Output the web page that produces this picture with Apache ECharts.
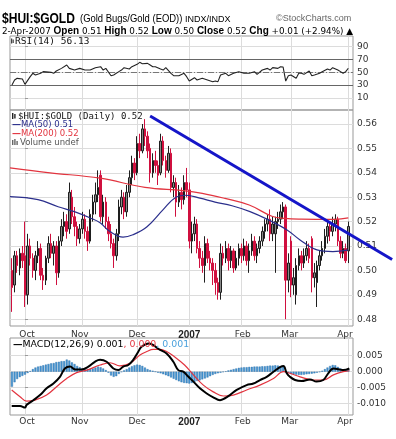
<!DOCTYPE html>
<html><head><meta charset="utf-8">
<script src="https://cdn.jsdelivr.net/npm/echarts@6/dist/echarts.min.js"></script>
<style>html,body{margin:0;padding:0;background:#fff}#c{width:396px;height:439px}</style>
</head><body><div id="c"></div><script>
// trading-day index of first candle (Oct 2 2006 = 0)
const firstDay = -5;
const opens = [.500,.494,.506,.501,.507,.506,.490,.510,.505,.500,
.506,.509,.498,.496,.505,.511,.507,.510,.499,.512,
.518,.520,.517,.530,.522,.518,.513,.517,.521,.516,
.512,.523,.528,.531,.539,.522,.528,.520,.515,.511,
.506,.515,.526,.530,.524,.532,.538,.544,.540,.552,
.549,.558,.555,.550,.540,.545,.543,.540,.553,.545,
.541,.548,.534,.536,.528,.532,.529,.536,.533,.512,
.515,.519,.509,.505,.502,.511,.505,.503,.500,.495,
.491,.507,.505,.509,.504,.508,.501,.505,.509,.506,
.510,.504,.508,.512,.506,.509,.512,.516,.519,.521,
.515,.515,.520,.521,.524,.526,.496,.512,.494,.490,
.502,.506,.503,.506,.509,.513,.497,.495,.502,.506,
.509,.514,.518,.516,.519,.521,.512,.507,.509,.508];
const highs = [.505,.508,.508,.509,.510,.520,.515,.513,.507,.508,
.512,.511,.501,.506,.514,.515,.512,.512,.514,.521,
.524,.523,.536,.533,.526,.520,.519,.524,.523,.518,
.525,.531,.536,.541,.541,.531,.530,.522,.519,.513,
.517,.529,.533,.532,.535,.541,.547,.546,.555,.556,
.560,.562,.557,.552,.548,.549,.545,.556,.555,.547,
.551,.550,.539,.538,.535,.534,.539,.542,.536,.520,
.522,.521,.512,.508,.514,.513,.508,.505,.503,.497,
.511,.510,.512,.511,.510,.509,.508,.511,.511,.513,
.512,.511,.515,.514,.511,.514,.518,.521,.523,.525,
.522,.522,.524,.527,.528,.527,.507,.514,.501,.505,
.509,.508,.509,.512,.511,.514,.503,.504,.508,.512,
.517,.520,.519,.522,.523,.522,.514,.512,.511,.520];
const lows = [.483,.491,.499,.498,.501,.485,.486,.502,.497,.496,
.503,.496,.492,.494,.503,.505,.502,.494,.497,.510,
.514,.513,.515,.519,.514,.510,.511,.515,.513,.508,
.511,.520,.523,.528,.520,.519,.517,.512,.509,.501,
.504,.512,.523,.521,.522,.530,.535,.537,.539,.546,
.548,.551,.546,.536,.538,.540,.535,.539,.543,.538,
.540,.532,.530,.522,.526,.525,.527,.530,.509,.507,
.512,.507,.501,.499,.495,.503,.500,.494,.490,.488,
.488,.502,.503,.500,.501,.499,.500,.502,.503,.504,
.502,.499,.506,.504,.503,.507,.510,.513,.516,.512,
.512,.499,.517,.519,.521,.480,.491,.489,.490,.486,
.500,.500,.501,.504,.503,.491,.493,.485,.500,.504,
.507,.511,.512,.514,.516,.510,.505,.505,.503,.503];
const closes = [.493,.506,.502,.507,.504,.490,.510,.505,.500,.506,
.509,.498,.496,.505,.511,.507,.510,.499,.512,.518,
.520,.516,.532,.522,.518,.513,.517,.521,.516,.512,
.523,.528,.531,.534,.522,.528,.520,.515,.511,.506,
.515,.526,.530,.524,.532,.538,.544,.540,.552,.549,
.558,.555,.549,.540,.545,.543,.539,.553,.545,.541,
.548,.534,.536,.528,.532,.529,.536,.533,.512,.515,
.519,.509,.505,.502,.511,.505,.503,.500,.495,.491,
.507,.505,.509,.504,.508,.501,.505,.509,.506,.510,
.504,.508,.512,.506,.509,.512,.516,.519,.521,.515,
.519,.520,.521,.524,.526,.496,.503,.494,.497,.502,
.506,.503,.506,.509,.505,.497,.499,.502,.506,.509,
.514,.518,.516,.519,.521,.512,.507,.509,.504,.518];

const ma50Days = [-5.75,5,12.7,19.2,25,28.8,32.6,37.6,41.4,46.8,52.9,57.9,61.8,67.1,72.9,79.4,86.3,92.8,100.5,105.5,112,118.1,124];
const ma50Vals = [.5302,.5290,.5261,.5240,.5215,.5195,.5159,.5136,.5146,.5179,.5248,.5300,.5308,.5296,.5280,.5265,.5241,.5210,.5166,.5125,.5084,.5077,.5084];
const ma200Days = [-5.75,9.6,28.8,46,60.6,68,76.7,86,94.7,99.7,105.9,119,124];
const ma200Vals = [.5420,.5400,.5378,.5340,.5327,.5316,.5295,.5268,.5222,.5213,.5210,.5209,.5215];
const trendDays = [48, 140.8];
const trendVals = [.5633, .5045];

const rsiDays = [-5,-4,-3,-1,0,2,3,4,6,7,10,11,12,14,16,17,19,21,23,25,27,29,30,31,33,34,36,37,38,40,41,43,44,45,47,48,49,50,52,53,54,56,57,59,61,62,63,65,66,68,70,72,73,74,75,77,78,80,82,84,86,88,89,91,93,94,95,97,98,99,100,101,102,104,105,106,107,109,110,111,113,114,116,117,118,120,121,122,123,124];
const rsiVals = [30,37.8,40.4,39.3,31,43,48.2,45.6,48.2,50.8,49.7,48.2,51.8,55.9,61.1,55.9,53.3,55.9,53.3,53.3,57,58.5,53.3,55.9,44.5,45.6,50.8,53.3,57,54.9,58.5,62.2,65.3,63.2,63.7,61.1,58.5,58.5,54.9,53.3,57,48.2,44.5,44.5,48.2,43,36.2,41.4,37.8,40.4,37.8,35.2,36.2,35.2,45.6,48.2,44.5,48.2,50.8,48.2,48.2,50.8,46.6,53.3,55.9,53.3,57,55.9,58.5,58,36.2,44.5,45.6,40.4,48.2,48.2,46.6,51.8,44.5,45.6,48.2,50.8,54.9,53.3,57,53.3,50.8,48.2,50.8,56.13];

const macdDays = [-5.1,-1.9,0,0.6,3.2,5.75,8.3,10.9,13.4,15.3,17.3,19.2,21.7,24.3,26.8,28.8,31.3,33.9,35.8,37.7,39.6,41.5,43.5,44.7,47.5,51.8,54.3,56.9,58.8,60.7,62.7,64.6,67.1,69.7,72.2,74.8,76.7,78.6,81.2,85,87.6,90.1,92.7,95.3,97.8,99.1,100.4,101.6,103.6,106.1,109.3,111.8,114.4,116.3,118.3,120.2,122.1,124.4];
const macdVals = [-.0107,-.0107,-.0112,-.0104,-.0089,-.0073,-.0052,-.0037,-.0016,.0010,.0016,.0007,.0007,.0016,.0031,.0037,.0031,.0010,.0005,.0016,.0021,.0037,.0063,.0078,.0088,.0068,.0057,.0031,.0005,0,-.0016,-.0031,-.0052,-.0068,-.0080,-.0089,-.0083,-.0073,-.0057,-.0042,-.0037,-.0026,-.0016,0,.0014,.0018,-.0005,-.0016,-.0026,-.0029,-.0024,-.0031,-.0026,-.0005,.0010,.0008,.0005,.0010];
const signalDays = [-5.1,-1.9,0.6,3.8,8.3,12.1,16,19.8,23.7,28.8,32.6,36.4,40.3,44.1,46.7,49.2,51.8,54.3,57.3,61.2,64.6,68.4,72.2,76.1,79.9,85,90.1,95.3,99.1,101.6,105.5,110.5,114.4,118.3,122.1,124.4];
const signalVals = [-.0057,-.0078,-.0092,-.0089,-.0073,-.0047,-.0021,-.0003,.0005,.0021,.0028,.0018,.0026,.0052,.0063,.0070,.0070,.0063,.0047,.0021,-.0010,-.0042,-.0063,-.0076,-.0073,-.0057,-.0042,-.0021,0,-.0005,-.0016,-.0026,-.0026,-.0010,0,.0003];
const histVals = [-.0047,-.0033,-.0023,-.0017,-.0013,-.0009,-.0004,.0002,.0008,.0013,
.0016,.0018,.0020,.0022,.0024,.0026,.0027,.0030,.0031,.0033,
.0033,.0038,.0035,.0029,.0024,.0018,.0014,.0010,.0008,.0007,
.0008,.0010,.0013,.0016,.0014,.0010,.0005,-.0003,-.0012,-.0016,
-.0014,-.0007,-.0001,.0004,.0008,.0013,.0017,.0020,.0022,.0021,
.0018,.0013,.0008,.0005,.0003,0,-.0003,-.0005,-.0008,-.0011,
-.0014,-.0018,-.0022,-.0026,-.0030,-.0033,-.0035,-.0036,-.0037,-.0035,
-.0032,-.0029,-.0027,-.0024,-.0021,-.0018,-.0014,-.0010,-.0007,-.0005,
-.0003,-.0001,.0001,.0004,.0006,.0008,.0010,.0012,.0013,.0014,
.0014,.0015,.0015,.0016,.0016,.0016,.0017,.0017,.0018,.0019,
.0019,.0020,.0019,.0017,.0016,0,-.0004,-.0007,-.0008,-.0009,
-.0010,-.0010,-.0009,-.0008,-.0007,-.0006,-.0005,-.0003,-.0001,.0003,
.0008,.0013,.0018,.0021,.0020,.0015,.0010,.0006,.0004,.0007];

const monthLines = [0, 22, 43, 63, 83, 102, 124];
const monthLabels = ['Oct', 'Nov', 'Dec', '2007', 'Feb', 'Mar', 'Apr'];
const monthLabelPos = [0.8, 21, 43, 63, 83.5, 101.5, 122.7];
const rsiTicks = [10, 30, 50, 70, 90];
const priceTicks = [0.48, 0.49, 0.50, 0.51, 0.52, 0.53, 0.54, 0.55, 0.56];
const macdTicks = [-0.010, -0.005, 0, 0.005];

const zip = (xs, ys) => xs.map((x, i) => [x, ys[i]]);
const candles = opens.map((o, k) => [firstDay + k, o, closes[k], lows[k], highs[k]]);
const hist = histVals.map((v, k) => [firstDay + k, v]);

const GRID_L = 10, GRID_R = 43;
const XMIN = -5.75, XMAX = 125.8;
const labelFont = {fontSize: 9, color: '#333', fontFamily: '"DejaVu Sans", sans-serif'};
function xAxis(idx, showLabels) {
  return {
    type: 'value', gridIndex: idx, min: XMIN, max: XMAX,
    axisLine: {show: false},
    axisTick: {show: false, customValues: monthLines},
    splitLine: {show: true, lineStyle: {color: '#dcdcdc', width: 1}},
    axisLabel: showLabels ? Object.assign({
      customValues: monthLabelPos, margin: idx === 1 ? 4 : 2, hideOverlap: false,
      formatter: v => { const j = monthLabelPos.indexOf(v); const t = monthLabels[j] || ''; return t === '2007' ? '{b|2007}' : t; },
      rich: {b: {fontWeight: 'bold', fontSize: 10, color: '#222', fontFamily: '"Liberation Sans", sans-serif'}}
    }, labelFont) : {show: false}
  };
}
function yAxis(idx, min, max, ticks, fmt) {
  return {
    type: 'value', gridIndex: idx, position: 'right', min, max,
    axisLine: {show: false},
    axisTick: {show: true, customValues: ticks, length: 3, lineStyle: {color: '#999'}},
    splitLine: {show: true, lineStyle: {color: '#dcdcdc', width: 1}},
    axisLabel: Object.assign({customValues: ticks, margin: 4, formatter: fmt}, labelFont)
  };
}

const texts = [
  {type: 'text', x: 2, y: 19, z: 100, scaleX: 0.86, style: {text: '$HUI:$GOLD', font: 'bold 14px "Liberation Sans", Arial', fill: '#000', verticalAlign: 'middle'}},
  {type: 'text', x: 80, y: 19.5, z: 100, scaleX: 0.9, style: {text: '(Gold Bugs/Gold (EOD))', font: '10.5px "Liberation Sans", Arial', fill: '#000', verticalAlign: 'middle'}},
  {type: 'text', x: 185, y: 19.5, z: 100, style: {text: 'INDX/INDX', font: '9px "Liberation Sans", Arial', fill: '#000', verticalAlign: 'middle'}},
  {type: 'text', x: 276, y: 18.5, z: 100, style: {text: '©StockCharts.com', font: '9px "Liberation Sans", Arial', fill: '#666', verticalAlign: 'middle'}},
  {type: 'text', x: 2, y: 31.5, z: 100, style: {
    text: '{n|2-Apr-2007 }{b|Open}{n| 0.51 }{b|High}{n| 0.52 }{b|Low}{n| 0.50 }{b|Close}{n| 0.52 }{b|Chg}{n| +0.01 (+2.94%) ▲}',
    verticalAlign: 'middle',
    rich: {n: {font: '8.8px "DejaVu Sans", Verdana', fill: '#000'}, b: {font: 'bold 10px "Liberation Sans", Arial', fill: '#000'}}}},
  {type: 'text', x: 15, y: 41.5, z: 100, style: {text: 'RSI(14) 56.13', font: '9.5px "DejaVu Sans Mono", monospace', fill: '#111', verticalAlign: 'middle'}},
  {type: 'text', x: 18, y: 116.5, z: 100, style: {text: '$HUI:$GOLD (Daily) 0.52', font: '9px "DejaVu Sans Mono", monospace', fill: '#111', verticalAlign: 'middle'}},
  {type: 'text', x: 12, y: 125, z: 100, style: {text: '{d|—}{t|MA(50) 0.51}', verticalAlign: 'middle',
    rich: {d: {font: 'bold 9px "DejaVu Sans"', fill: '#2b2f8c'}, t: {font: '8.5px "DejaVu Sans"', fill: '#2b2f8c'}}}},
  {type: 'text', x: 12, y: 133.5, z: 100, style: {text: '{d|—}{t|MA(200) 0.52}', verticalAlign: 'middle',
    rich: {d: {font: 'bold 9px "DejaVu Sans"', fill: '#e2343f'}, t: {font: '8.5px "DejaVu Sans"', fill: '#e2343f'}}}},
  {type: 'text', x: 20, y: 142.5, z: 100, style: {text: 'Volume undef', font: '8.5px "DejaVu Sans"', fill: '#555', verticalAlign: 'middle'}},
  {type: 'text', x: 13, y: 345, z: 100, style: {text: '{d|—}{k|MACD(12,26,9) 0.001}{r|, 0.000}{c|, 0.001}', verticalAlign: 'middle',
    rich: {d: {font: 'bold 9.5px "DejaVu Sans"', fill: '#000'}, k: {font: '9.4px "DejaVu Sans"', fill: '#000'},
           r: {font: '9.4px "DejaVu Sans"', fill: '#e2343f'}, c: {font: '9.4px "DejaVu Sans"', fill: '#4aa0dc'}}}},
  {type: 'group', z: 100, children: [
    {type: 'rect', shape: {x: 11, y: 38.5, width: 1.2, height: 5}, style: {fill: '#444'}},
    {type: 'rect', shape: {x: 12.6, y: 39.5, width: 1.2, height: 3.5}, style: {fill: '#444'}},
    {type: 'rect', shape: {x: 12, y: 113, width: 1.4, height: 6}, style: {fill: '#222'}},
    {type: 'rect', shape: {x: 14.2, y: 114, width: 1.4, height: 4.5}, style: {fill: '#222'}},
    {type: 'rect', shape: {x: 12, y: 140, width: 1.4, height: 5}, style: {fill: '#666'}},
    {type: 'rect', shape: {x: 14.2, y: 139, width: 1.4, height: 6}, style: {fill: '#666'}},
    {type: 'rect', shape: {x: 16.4, y: 141, width: 1.4, height: 4}, style: {fill: '#666'}}
  ]}
];

const chart = echarts.init(document.getElementById('c'), null, {renderer: 'canvas'});
const option = {
  animation: false,
  backgroundColor: '#fff',
  grid: [
    {left: GRID_L, right: GRID_R, top: 36, height: 74, show: true, borderColor: '#999', borderWidth: 1},
    {left: GRID_L, right: GRID_R, top: 110, height: 216, show: true, borderColor: '#999', borderWidth: 1},
    {left: GRID_L, right: GRID_R, top: 338, height: 77, show: true, borderColor: '#999', borderWidth: 1}
  ],
  xAxis: [xAxis(0, false), xAxis(1, true), xAxis(2, true)],
  yAxis: [
    yAxis(0, -8.9, 106.3, rsiTicks, v => String(v)),
    yAxis(1, 0.47721, 0.56574, priceTicks, v => v.toFixed(2)),
    yAxis(2, -0.01353, 0.01053, macdTicks, v => (Math.abs(v) < 1e-9 ? 0 : v).toFixed(3))
  ],
  series: [
    {type: 'line', xAxisIndex: 0, yAxisIndex: 0, data: zip(rsiDays, rsiVals), symbol: 'none',
     lineStyle: {color: '#222', width: 1.1}, z: 5,
     markLine: {silent: true, symbol: 'none', label: {show: false},
       data: [
         {yAxis: 70, lineStyle: {color: '#666', width: 1, type: 'solid'}},
         {yAxis: 30, lineStyle: {color: '#666', width: 1, type: 'solid'}},
         {yAxis: 50, lineStyle: {color: '#777', width: 1, type: [6, 2, 1, 2]}}
       ]}},
    {type: 'candlestick', xAxisIndex: 1, yAxisIndex: 1, data: candles, barWidth: 2,
     encode: {x: 0, y: [1, 2, 3, 4]},
     itemStyle: {color: '#8a8a8a', borderColor: '#1e1e1e', color0: '#d0103f', borderColor0: '#d0103f', borderWidth: 1}, z: 3},
    {type: 'line', xAxisIndex: 1, yAxisIndex: 1, data: zip(ma200Days, ma200Vals), symbol: 'none', smooth: 0.4,
     lineStyle: {color: '#e2343f', width: 1.2}, z: 4},
    {type: 'line', xAxisIndex: 1, yAxisIndex: 1, data: zip(ma50Days, ma50Vals), symbol: 'none', smooth: 0.4,
     lineStyle: {color: '#2b2f8c', width: 1.2}, z: 4},
    {type: 'bar', xAxisIndex: 2, yAxisIndex: 2, data: hist, barWidth: 2,
     itemStyle: {color: '#4595d2', borderColor: '#2c6fa8', borderWidth: 0.4}, z: 3},
    {type: 'line', xAxisIndex: 2, yAxisIndex: 2, data: zip(signalDays, signalVals), symbol: 'none', smooth: 0.4,
     lineStyle: {color: '#e2343f', width: 1.2}, z: 4},
    {type: 'line', xAxisIndex: 2, yAxisIndex: 2, data: zip(macdDays, macdVals), symbol: 'none', smooth: 0.4,
     lineStyle: {color: '#000', width: 2}, z: 5}
  ],
  graphic: texts
};
chart.setOption(option);
// trendline extends past the plot area: position it through the price grid's scales
const t0 = chart.convertToPixel({xAxisIndex: 1, yAxisIndex: 1}, [trendDays[0], trendVals[0]]);
const t1 = chart.convertToPixel({xAxisIndex: 1, yAxisIndex: 1}, [trendDays[1], trendVals[1]]);
chart.setOption({graphic: texts.concat([{type: 'line', z: 90,
  shape: {x1: t0[0], y1: t0[1], x2: t1[0], y2: t1[1]},
  style: {stroke: '#1515c8', lineWidth: 3}}])});
</script></body></html>
